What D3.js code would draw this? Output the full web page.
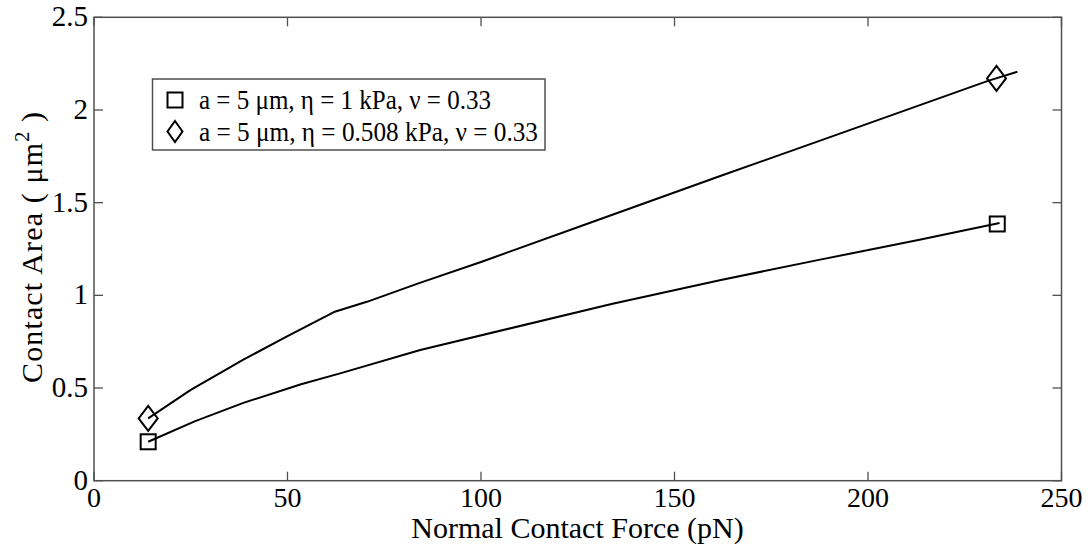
<!DOCTYPE html>
<html>
<head>
<meta charset="utf-8">
<script src="https://cdn.jsdelivr.net/npm/d3@7"></script>
<style>
  body { margin: 0; background: #fff; }
  svg text { font-family: "Liberation Serif", "Times New Roman", "DejaVu Serif", serif; fill: #000; }
</style>
</head>
<body>
<svg id="chart" width="1090" height="552"></svg>
<script>
// ---- data ----
const forceUpper = [14, 25, 38.6, 50, 62, 70.5, 84, 100, 130, 162, 190, 231, 238.6];
const areaUpper  = [0.336, 0.49, 0.653, 0.78, 0.91, 0.965, 1.066, 1.18, 1.405, 1.645, 1.852, 2.157, 2.206];
const forceLower = [14, 26, 38.6, 53.5, 63.6, 84.3, 134, 162, 187, 213, 234];
const areaLower  = [0.21, 0.32, 0.42, 0.52, 0.579, 0.705, 0.955, 1.083, 1.19, 1.298, 1.39];
const squareX = [14, 233.4];
const squareY = [0.21, 1.385];
const diamondX = [14, 233.2];
const diamondY = [0.336, 2.17];
const xTicks = [0, 50, 100, 150, 200, 250];
const yTicks = [0, 0.5, 1, 1.5, 2, 2.5];
const legendLabels = ["a = 5 \u03bcm, \u03b7 = 1 kPa, \u03bd = 0.33", "a = 5 \u03bcm, \u03b7 = 0.508 kPa, \u03bd = 0.33"];

const FONT = "'Liberation Serif', 'Times New Roman', serif";
const svg = d3.select("#chart");
const L = 94, R = 1061.5, T = 17.3, B = 480.7;
const x = d3.scaleLinear().domain([0, 250]).range([L, R]);
const y = d3.scaleLinear().domain([0, 2.5]).range([B, T]);
const frameColor = "#505050";
const tickLen = 9;

// frame
svg.append("rect").attr("x", L).attr("y", T).attr("width", R - L).attr("height", B - T)
  .attr("fill", "none").attr("stroke", frameColor).attr("stroke-width", 1.5);

// ticks (inside, all four sides)
const tg = svg.append("g").attr("stroke", frameColor).attr("stroke-width", 1.3);
xTicks.forEach(v => {
  tg.append("line").attr("x1", x(v)).attr("x2", x(v)).attr("y1", B).attr("y2", B - tickLen);
  tg.append("line").attr("x1", x(v)).attr("x2", x(v)).attr("y1", T).attr("y2", T + tickLen);
});
yTicks.forEach(v => {
  tg.append("line").attr("x1", L).attr("x2", L + tickLen).attr("y1", y(v)).attr("y2", y(v));
  tg.append("line").attr("x1", R).attr("x2", R - tickLen).attr("y1", y(v)).attr("y2", y(v));
});

// tick labels
svg.append("g").selectAll("text").data(xTicks).join("text")
  .attr("x", d => x(d)).attr("y", 507).attr("text-anchor", "middle")
  .style("font-family", FONT).attr("font-size", 28).text(d => d3.format("")(d));
svg.append("g").selectAll("text").data(yTicks).join("text")
  .attr("x", 88).attr("y", d => y(d) + 9).attr("text-anchor", "end")
  .style("font-family", FONT).attr("font-size", 29).text(d => d3.format("")(d));

// axis titles
svg.append("text").attr("x", 577.5).attr("y", 538).attr("text-anchor", "middle")
  .style("font-family", FONT).attr("font-size", 30).text("Normal Contact Force (pN)");
const yl = svg.append("text").attr("transform", "translate(42,247.5) rotate(-90)")
  .attr("text-anchor", "middle").style("font-family", FONT).attr("font-size", 30)
  .attr("textLength", 271).attr("lengthAdjust", "spacing");
yl.append("tspan").text("Contact Area ( \u03bcm");
yl.append("tspan").attr("font-size", 20).attr("dy", -13).text("2");
yl.append("tspan").attr("dy", 13).text(" )");

// lines
const line = d3.line().x(d => x(d[0])).y(d => y(d[1]));
const upper = d3.zip(forceUpper, areaUpper);
const lower = d3.zip(forceLower, areaLower);
[upper, lower].forEach(data => {
  svg.append("path").datum(data).attr("d", line).attr("fill", "none")
    .attr("stroke", "#000").attr("stroke-width", 2).attr("stroke-linejoin", "round");
});

// markers
const sq = 7.5;
svg.append("g").selectAll("rect").data(d3.zip(squareX, squareY)).join("rect")
  .attr("x", d => x(d[0]) - sq).attr("y", d => y(d[1]) - sq)
  .attr("width", 2 * sq).attr("height", 2 * sq)
  .attr("fill", "none").attr("stroke", "#000").attr("stroke-width", 2);
const dw = 9.5, dh = 12.5;
const diamondPath = (cx, cy, w, h) => `M${cx},${cy - h}L${cx + w},${cy}L${cx},${cy + h}L${cx - w},${cy}Z`;
svg.append("g").selectAll("path").data(d3.zip(diamondX, diamondY)).join("path")
  .attr("d", d => diamondPath(x(d[0]), y(d[1]), dw, dh))
  .attr("fill", "none").attr("stroke", "#000").attr("stroke-width", 2);

// legend
const lg = svg.append("g");
lg.append("rect").attr("x", 152.5).attr("y", 79).attr("width", 392.5).attr("height", 71)
  .attr("fill", "#fff").attr("stroke", frameColor).attr("stroke-width", 1.5);
lg.append("rect").attr("x", 175 - 7.5).attr("y", 100 - 7.5).attr("width", 15).attr("height", 15)
  .attr("fill", "none").attr("stroke", "#000").attr("stroke-width", 2);
lg.append("path").attr("d", diamondPath(175, 131.5, 7.5, 10.5))
  .attr("fill", "none").attr("stroke", "#000").attr("stroke-width", 2);
const legendWidths = [292, 339];
lg.selectAll("text.lab").data(legendLabels).join("text").attr("class", "lab")
  .attr("x", 199).attr("y", (d, i) => 109 + i * 32)
  .style("font-family", FONT).attr("font-size", 28)
  .attr("textLength", (d, i) => legendWidths[i]).attr("lengthAdjust", "spacingAndGlyphs")
  .text(d => d);
</script>
</body>
</html>
